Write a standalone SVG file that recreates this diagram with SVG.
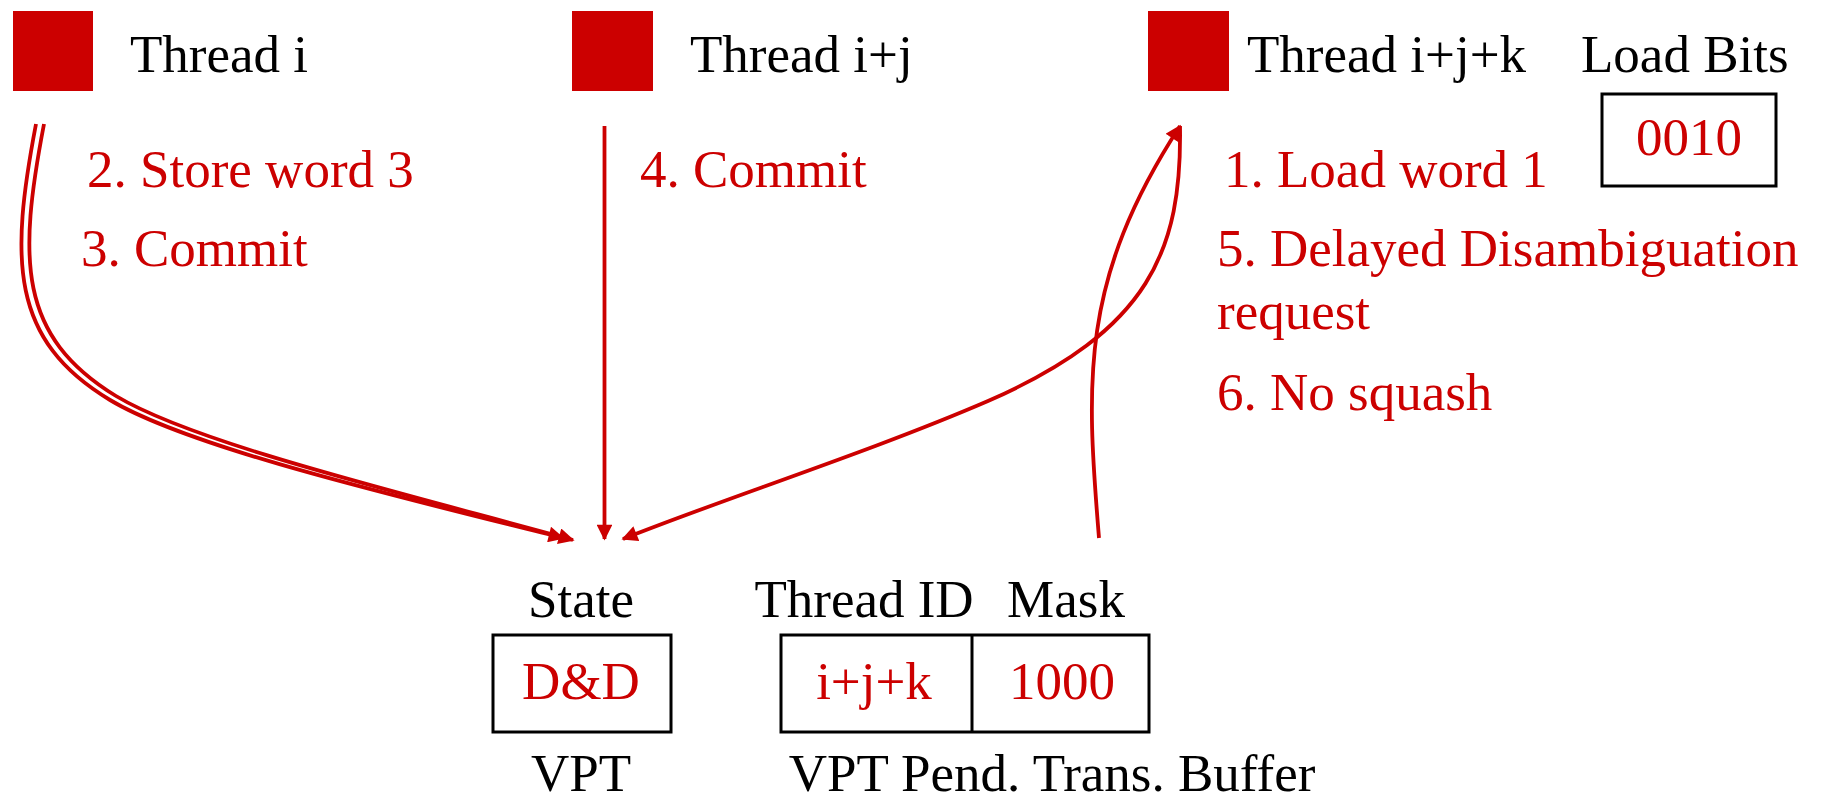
<svg xmlns="http://www.w3.org/2000/svg" width="1823" height="796" viewBox="0 0 1823 796">
  <style>
    .lbl { font-family: "Liberation Serif", "Times New Roman", serif; font-size: 53px; fill: #000; }
    .red { font-family: "Liberation Serif", "Times New Roman", serif; font-size: 53px; fill: #CC0000; }
    .thr { fill: #CC0000; }
    .box { fill: none; stroke: #000; stroke-width: 3; }
    .wire { fill: none; stroke: #CC0000; stroke-width: 3.8; }
  </style>
  <defs>
    <marker id="ah" viewBox="0 0 10 10" refX="9" refY="5" markerWidth="4.4" markerHeight="4.2" markerUnits="strokeWidth" orient="auto">
      <path d="M0 0 L10 5 L0 10 Z" fill="#CC0000"/>
    </marker>
  </defs>
  <rect width="1823" height="796" fill="#fff"/>

  <g id="thread-i">
    <rect class="thr" x="13" y="11" width="80" height="80"/>
    <text class="lbl" x="130" y="72">Thread i</text>
  </g>
  <g id="thread-ij">
    <rect class="thr" x="572" y="11" width="81" height="80"/>
    <text class="lbl" x="690" y="72">Thread i+j</text>
  </g>
  <g id="thread-ijk">
    <rect class="thr" x="1148" y="11" width="81" height="80"/>
    <text class="lbl" x="1247" y="72">Thread i+j+k</text>
  </g>
  <g id="load-bits">
    <text class="lbl" x="1581" y="72">Load Bits</text>
    <rect class="box" x="1602" y="94" width="174" height="92"/>
    <text class="red" x="1689" y="155" text-anchor="middle">0010</text>
  </g>

  <g id="steps">
    <text class="red" x="87" y="187">2. Store word 3</text>
    <text class="red" x="81" y="266">3. Commit</text>
    <text class="red" x="640" y="187">4. Commit</text>
    <text class="red" x="1224" y="187">1. Load word 1</text>
    <text class="red" x="1217" y="266">5. Delayed Disambiguation</text>
    <text class="red" x="1217" y="329">request</text>
    <text class="red" x="1217" y="410">6. No squash</text>
  </g>

  <g id="vpt">
    <text class="lbl" x="581" y="617" text-anchor="middle">State</text>
    <rect class="box" x="493" y="635" width="178" height="97"/>
    <text class="red" x="581" y="699" text-anchor="middle">D&amp;D</text>
    <text class="lbl" x="581" y="791" text-anchor="middle">VPT</text>
  </g>
  <g id="pending-buffer">
    <text class="lbl" x="864" y="617" text-anchor="middle">Thread ID</text>
    <text class="lbl" x="1066" y="617" text-anchor="middle">Mask</text>
    <rect class="box" x="781" y="635" width="368" height="97"/>
    <line class="box" x1="972" y1="635" x2="972" y2="732"/>
    <text class="red" x="874" y="699" text-anchor="middle">i+j+k</text>
    <text class="red" x="1062" y="699" text-anchor="middle">1000</text>
    <text class="lbl" x="1052" y="791" text-anchor="middle">VPT Pend. Trans. Buffer</text>
  </g>

  <g id="connectors">
    <path class="wire" marker-end="url(#ah)" d="M36 124 C10 260 10 340 110 400 C190 448 400 497 563 538"/>
    <path class="wire" marker-end="url(#ah)" d="M44 124 C18 260 18 336 116 396 C196 444 406 494 573 540"/>
    <path class="wire" marker-end="url(#ah)" d="M604.5 126 L604.5 539"/>
    <path class="wire" marker-end="url(#ah)" d="M1180 126 C1182 250 1150 330 988 401 C870 452 720 500 623 539"/>
    <path class="wire" marker-end="url(#ah)" d="M1099 538 C1086 380 1080 280 1180 126"/>
  </g>
</svg>
